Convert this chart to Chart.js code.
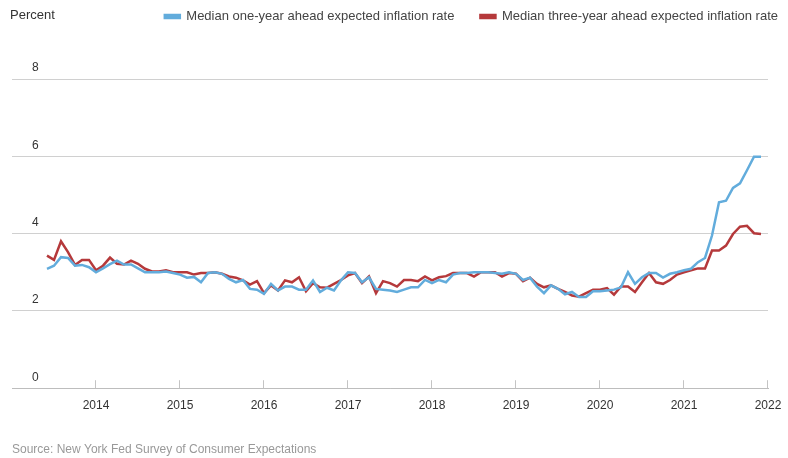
<!DOCTYPE html>
<html>
<head>
<meta charset="utf-8">
<script src="https://cdn.jsdelivr.net/npm/chart.js@4.4.0/dist/chart.umd.min.js"></script>
<style>
  body { margin: 0; background: #fff; }
</style>
</head>
<body>
<canvas id="myChart" width="788" height="458"></canvas>
<script>
// meses de la encuesta (junio 2013 - diciembre 2021)
const meses = [
  '2013-06','2013-07','2013-08','2013-09','2013-10','2013-11','2013-12',
  '2014-01','2014-02','2014-03','2014-04','2014-05','2014-06','2014-07','2014-08','2014-09','2014-10','2014-11','2014-12',
  '2015-01','2015-02','2015-03','2015-04','2015-05','2015-06','2015-07','2015-08','2015-09','2015-10','2015-11','2015-12',
  '2016-01','2016-02','2016-03','2016-04','2016-05','2016-06','2016-07','2016-08','2016-09','2016-10','2016-11','2016-12',
  '2017-01','2017-02','2017-03','2017-04','2017-05','2017-06','2017-07','2017-08','2017-09','2017-10','2017-11','2017-12',
  '2018-01','2018-02','2018-03','2018-04','2018-05','2018-06','2018-07','2018-08','2018-09','2018-10','2018-11','2018-12',
  '2019-01','2019-02','2019-03','2019-04','2019-05','2019-06','2019-07','2019-08','2019-09','2019-10','2019-11','2019-12',
  '2020-01','2020-02','2020-03','2020-04','2020-05','2020-06','2020-07','2020-08','2020-09','2020-10','2020-11','2020-12',
  '2021-01','2021-02','2021-03','2021-04','2021-05','2021-06','2021-07','2021-08','2021-09','2021-10','2021-11','2021-12'
];

const unAnio = [
  3.09, 3.17, 3.39, 3.37, 3.17, 3.19, 3.13,
  3.00, 3.10, 3.21, 3.30, 3.20, 3.20, 3.10, 3.00, 3.00, 3.00, 3.02, 2.98,
  2.94, 2.86, 2.88, 2.74, 2.98, 3.00, 2.96, 2.83, 2.74, 2.80, 2.57, 2.55,
  2.44, 2.70, 2.53, 2.63, 2.63, 2.55, 2.55, 2.79, 2.49, 2.60, 2.53, 2.79,
  3.00, 2.98, 2.74, 2.87, 2.57, 2.55, 2.53, 2.49, 2.55, 2.61, 2.61, 2.80,
  2.72, 2.80, 2.74, 2.94, 2.98, 2.98, 3.00, 3.00, 3.00, 2.98, 2.96, 3.00,
  2.96, 2.80, 2.86, 2.63, 2.46, 2.66, 2.57, 2.43, 2.49, 2.36, 2.36, 2.51,
  2.51, 2.53, 2.55, 2.61, 3.00, 2.70, 2.87, 2.98, 2.98, 2.86, 2.96, 3.00,
  3.05, 3.09, 3.26, 3.37, 3.95, 4.81, 4.85, 5.18, 5.30, 5.64, 5.99, 5.99
];

const tresAnios = [
  3.43, 3.32, 3.80, 3.52, 3.19, 3.32, 3.32,
  3.05, 3.17, 3.38, 3.22, 3.20, 3.30, 3.22, 3.09, 3.02, 3.02, 3.05, 3.00,
  3.00, 3.00, 2.94, 2.98, 2.98, 3.00, 2.96, 2.89, 2.86, 2.79, 2.68, 2.77,
  2.46, 2.66, 2.53, 2.79, 2.74, 2.87, 2.51, 2.72, 2.61, 2.60, 2.70, 2.80,
  2.92, 2.98, 2.72, 2.89, 2.46, 2.77, 2.72, 2.63, 2.80, 2.80, 2.77, 2.89,
  2.79, 2.87, 2.90, 2.98, 2.98, 2.98, 2.89, 3.00, 3.00, 3.00, 2.89, 2.98,
  2.96, 2.77, 2.86, 2.70, 2.61, 2.66, 2.57, 2.49, 2.40, 2.37, 2.46, 2.55,
  2.55, 2.59, 2.42, 2.63, 2.63, 2.49, 2.74, 2.98, 2.74, 2.70, 2.80, 2.94,
  3.00, 3.05, 3.10, 3.10, 3.56, 3.56, 3.69, 3.99, 4.18, 4.20, 4.01, 3.99
];

const anios = [2014, 2015, 2016, 2017, 2018, 2019, 2020, 2021, 2022];
const ticksY = [0, 2, 4, 6, 8];

const azul = '#62acdc';
const rojo = '#b5393b';
const fuente = '"Liberation Sans", Arial, sans-serif';

// fecha 'YYYY-MM' -> año decimal
function aAnio(mes) {
  const partes = mes.split('-');
  return Number(partes[0]) + (Number(partes[1]) - 1) / 12;
}

function serie(valores) {
  return valores.map((v, i) => ({ x: aAnio(meses[i]), y: v }));
}

/* texto "Percent", marcas de los años y ajuste de la leyenda */
const extras = {
  id: 'extras',
  beforeInit(chart) {
    const fitOriginal = chart.legend.fit;
    chart.legend.fit = function () {
      fitOriginal.bind(chart.legend)();
      this.height = 95;
    };
  },
  afterLayout(chart) {
    // la leyenda llega casi al borde derecho
    chart.legend.left += 36;
    chart.legend.right += 36;
  },
  afterDraw(chart) {
    const ctx = chart.ctx;
    const ejeX = chart.scales.x;
    const abajo = chart.chartArea.bottom;
    ctx.save();
    ctx.strokeStyle = '#c4c4c4';
    ctx.lineWidth = 1;
    anios.forEach(a => {
      const px = Math.round(ejeX.getPixelForValue(a)) - 0.5;
      ctx.beginPath();
      ctx.moveTo(px, abajo);
      ctx.lineTo(px, abajo - 8);
      ctx.stroke();
    });
    ctx.fillStyle = '#333';
    ctx.font = '13px ' + fuente;
    ctx.textBaseline = 'middle';
    ctx.fillText('Percent', 10, 15);
    ctx.restore();
  }
};

const myChartCtx = document.querySelector('#myChart').getContext('2d');

const myChart = new Chart(myChartCtx, {
  type: 'line',
  data: {
    datasets: [{
      label: 'Median one-year ahead expected inflation rate',
      data: serie(unAnio),
      borderColor: azul,
      backgroundColor: azul,
      borderWidth: 2.5,
      pointRadius: 0,
      tension: 0
    }, {
      label: 'Median three-year ahead expected inflation rate',
      data: serie(tresAnios),
      borderColor: rojo,
      backgroundColor: rojo,
      borderWidth: 2.5,
      pointRadius: 0,
      tension: 0
    }]
  },
  options: {
    responsive: false,
    animation: false,
    layout: { padding: { left: 12, right: 20, top: -16, bottom: 0 } },
    plugins: {
      legend: {
        position: 'top',
        align: 'end',
        labels: {
          boxWidth: 15,
          boxHeight: 3,
          padding: 26,
          color: '#444',
          font: { family: fuente, size: 13 }
        }
      },
      subtitle: {
        display: true,
        text: 'Source: New York Fed Survey of Consumer Expectations',
        position: 'bottom',
        align: 'start',
        color: '#999',
        font: { family: fuente, size: 12, weight: 'normal' },
        padding: { top: 20, bottom: 1 }
      },
      tooltip: { enabled: false }
    },
    scales: {
      x: {
        type: 'linear',
        min: 2013,
        max: 2022,
        afterBuildTicks: (eje) => { eje.ticks = anios.map(a => ({ value: a })); },
        afterFit: (eje) => { eje.paddingRight = 0; },
        ticks: {
          callback: (v) => String(v),
          autoSkip: false,
          maxRotation: 0,
          padding: 10,
          color: '#333',
          font: { family: fuente, size: 12 }
        },
        grid: { drawOnChartArea: false, drawTicks: false },
        border: { color: '#bdbdbd', width: 1 }
      },
      y: {
        min: 0,
        max: 8,
        afterBuildTicks: (eje) => { eje.ticks = ticksY.map(v => ({ value: v })); },
        afterFit: (eje) => { eje.width = 0; },
        ticks: {
          mirror: true,
          padding: 20,
          labelOffset: -11,
          color: '#333',
          font: { family: fuente, size: 12 }
        },
        grid: { color: '#d0d0d0', drawTicks: false },
        border: { display: false }
      }
    }
  },
  plugins: [extras]
});
</script>
</body>
</html>
